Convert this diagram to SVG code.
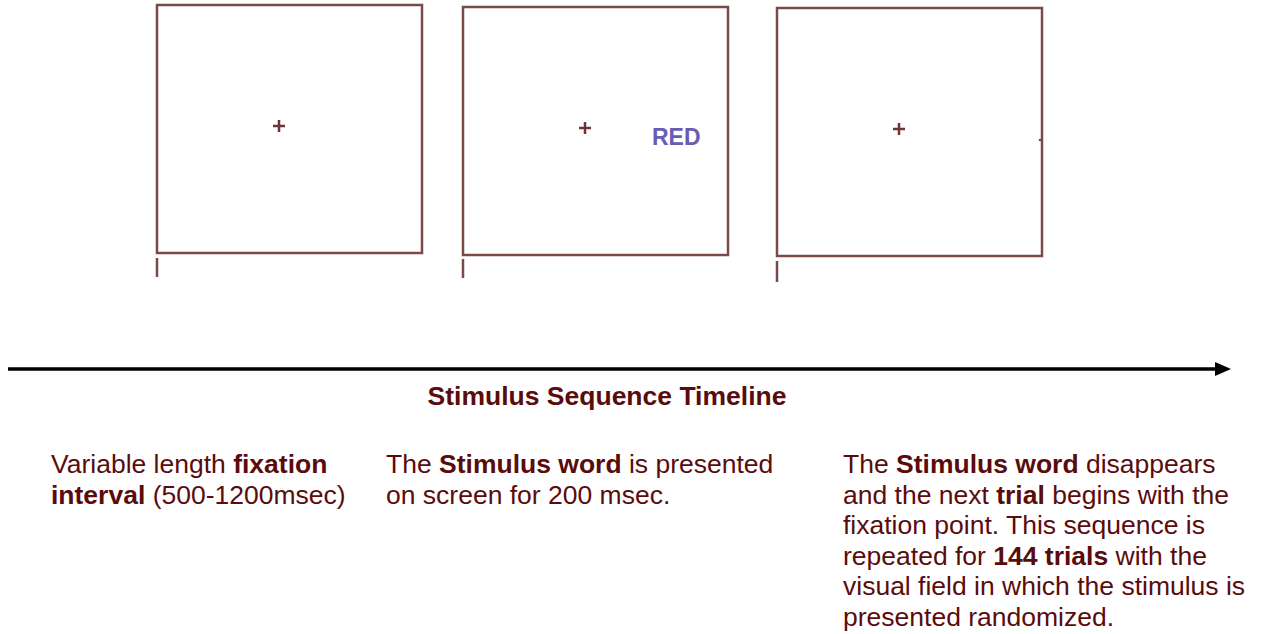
<svg xmlns="http://www.w3.org/2000/svg" width="1266" height="634" viewBox="0 0 1266 634">
<defs>
<style>
.box{fill:#fff;stroke:#7b4a48;stroke-width:2.5}
.tick{stroke:#7b4a48;stroke-width:2.5}
.plus{stroke:#6e3434;stroke-width:2.5}
.t{font-family:"Liberation Sans",Arial,sans-serif;font-size:26.5px;fill:#5a0c0c}
.b{font-weight:bold}
</style>
<marker id="ahd" viewBox="0 0 16 14" refX="0" refY="7" markerWidth="16" markerHeight="14" markerUnits="userSpaceOnUse" orient="auto"><path d="M0,0 L16,7 L0,14 Z" fill="#000"/></marker>
</defs>
<rect width="1266" height="634" fill="#fff"/>
<g id="screen1">
<rect class="box" x="157" y="5" width="265" height="248"/>
<line class="tick" x1="157" y1="258" x2="157" y2="277"/>
<path class="plus" d="M273,126 h12 M279,120 v12"/>
</g>
<g id="screen2">
<rect class="box" x="463" y="7" width="265" height="248"/>
<line class="tick" x1="463" y1="259" x2="463" y2="278"/>
<path class="plus" d="M579,128 h12 M585,122 v12"/>
<text x="652" y="145" font-family="'Liberation Sans',Arial,sans-serif" font-size="23" font-weight="bold" fill="#6a5cb0">RED</text>
</g>
<g id="screen3">
<rect class="box" x="777" y="8" width="265" height="248"/>
<line class="tick" x1="777" y1="261" x2="777" y2="282"/>
<path class="plus" d="M893,129 h12 M899,123 v12"/>
<circle cx="1040" cy="140" r="1.3" fill="#7b4a48"/>
</g>
<g id="connectors">
<line x1="8" y1="369" x2="1215" y2="369" stroke="#000" stroke-width="3.5" marker-end="url(#ahd)"/>
</g>
<g id="title">
<text class="t b" x="607" y="405" text-anchor="middle" style="font-size:26.5px">Stimulus Sequence Timeline</text>
</g>
<g id="caption1">
<text class="t" x="51" y="473">Variable length <tspan class="b">fixation</tspan></text>
<text class="t" x="51" y="503.5"><tspan class="b">interval</tspan> (500-1200msec)</text>
</g>
<g id="caption2">
<text class="t" x="386" y="473">The <tspan class="b">Stimulus word</tspan> is presented</text>
<text class="t" x="386" y="503.5">on screen for 200 msec.</text>
</g>
<g id="caption3">
<text class="t" x="843" y="473">The <tspan class="b">Stimulus word</tspan> disappears</text>
<text class="t" x="843" y="503.5">and the next <tspan class="b">trial</tspan> begins with the</text>
<text class="t" x="843" y="534">fixation point. This sequence is</text>
<text class="t" x="843" y="564.5">repeated for <tspan class="b">144 trials</tspan> with the</text>
<text class="t" x="843" y="595">visual field in which the stimulus is</text>
<text class="t" x="843" y="625.5">presented randomized.</text>
</g>
</svg>
